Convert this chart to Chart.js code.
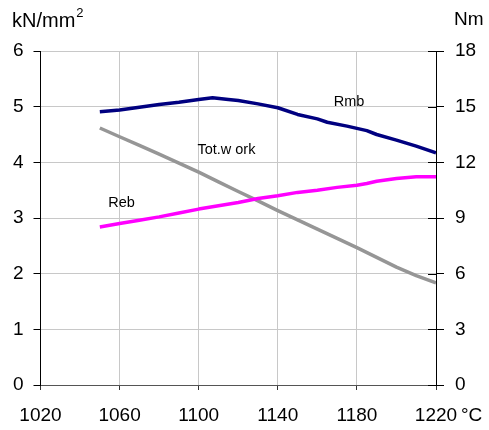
<!DOCTYPE html>
<html>
<head>
<meta charset="utf-8">
<script src="https://cdn.jsdelivr.net/npm/chart.js@4"></script>
<style>
html,body{margin:0;padding:0;background:#fff;}
canvas{display:block;}
</style>
</head>
<body>
<canvas id="c" width="489" height="430"></canvas>
<script>
// ---- data ----
const rmbTemp   = [1050,1060,1070,1080,1090,1100,1107,1115,1120,1130,1140,1150,1160,1165,1175,1185,1190,1200,1210,1220];
const rmbValues = [4.91,4.94,4.99,5.04,5.08,5.13,5.16,5.13,5.11,5.05,4.98,4.86,4.78,4.72,4.65,4.57,4.50,4.40,4.29,4.17];

const rebTemp   = [1050,1060,1070,1080,1090,1100,1110,1120,1130,1140,1150,1160,1170,1180,1185,1190,1200,1210,1220];
const rebValues = [2.84,2.90,2.96,3.02,3.09,3.16,3.22,3.28,3.35,3.40,3.46,3.50,3.55,3.59,3.62,3.66,3.71,3.74,3.74];

const workTemp   = [1050,1060,1070,1080,1090,1100,1110,1120,1130,1140,1150,1160,1170,1180,1190,1200,1210,1220];
const workValues = [13.85,13.38,12.91,12.44,11.96,11.47,10.95,10.43,9.92,9.40,8.90,8.40,7.90,7.40,6.88,6.35,5.90,5.50];

const xTicks  = [1020,1060,1100,1140,1180,1220];
const yTicks  = [0,1,2,3,4,5,6];
const y2Ticks = [0,3,6,9,12,15,18];

const leftTitle = 'kN/mm';
const leftTitleSup = '2';
const rightTitle = 'Nm';
const xUnit = '°C';

const noteLabels = ['Rmb','Tot.w ork','Reb'];
const noteX = [1176,1114,1061];
const noteY = [5.09,4.22,3.27];

// ---- chart ----
const FONT = '"Liberation Sans", Arial, sans-serif';
const pts = (xs, ys) => xs.map((x, i) => ({x: x, y: ys[i]}));

const extras = {
  id: 'extras',
  afterDraw(chart) {
    const ctx = chart.ctx;
    const xs = chart.scales.x, y = chart.scales.y, y2 = chart.scales.y2;
    ctx.save();
    // inner half of right-axis ticks
    ctx.strokeStyle = '#000';
    ctx.lineWidth = 1;
    y2.ticks.forEach(t => {
      const py = Math.round(y2.getPixelForValue(t.value)) + 0.5;
      ctx.beginPath();
      ctx.moveTo(y2.left - 8, py);
      ctx.lineTo(y2.left, py);
      ctx.stroke();
    });
    // axis titles
    ctx.fillStyle = '#000';
    ctx.textBaseline = 'alphabetic';
    ctx.textAlign = 'left';
    ctx.font = '20px ' + FONT;
    ctx.fillText(leftTitle, 12, 26.5);
    const w = ctx.measureText(leftTitle).width;
    ctx.font = '13px ' + FONT;
    ctx.fillText(leftTitleSup, 12 + w + 1, 16.5);
    ctx.font = '19px ' + FONT;
    ctx.fillText(rightTitle, 454, 25);
    // unit after last x label
    ctx.textBaseline = 'middle';
    ctx.fillText(xUnit, xs.getPixelForValue(xTicks[xTicks.length - 1]) + 25, 416);
    // series labels
    ctx.font = '14.5px ' + FONT;
    ctx.textAlign = 'center';
    noteLabels.forEach((s, i) => {
      ctx.fillText(s, xs.getPixelForValue(noteX[i]), y.getPixelForValue(noteY[i]));
    });
    ctx.restore();
  }
};

new Chart(document.getElementById('c'), {
  type: 'line',
  data: {
    datasets: [
      {label: 'Rmb', data: pts(rmbTemp, rmbValues), borderColor: '#000080', borderWidth: 3.5, yAxisID: 'y'},
      {label: 'Reb', data: pts(rebTemp, rebValues), borderColor: '#FF00FF', borderWidth: 3.5, yAxisID: 'y'},
      {label: 'Tot.w ork', data: pts(workTemp, workValues), borderColor: '#969696', borderWidth: 3.5, yAxisID: 'y2'}
    ]
  },
  options: {
    responsive: false,
    animation: false,
    devicePixelRatio: 1,
    events: [],
    elements: {point: {radius: 0}, line: {tension: 0, borderCapStyle: 'butt', borderJoinStyle: 'round'}},
    layout: {padding: {top: 51, left: 0, right: 0, bottom: 0}},
    plugins: {legend: {display: false}, tooltip: {enabled: false}},
    scales: {
      x: {
        type: 'linear', min: 1020, max: 1220,
        afterBuildTicks: s => { s.ticks = xTicks.map(v => ({value: v})); },
        afterFit: s => { s.height = 45; },
        ticks: {color: '#000', font: {family: FONT, size: 19}, padding: 14, maxRotation: 0, callback: v => String(v)},
        grid: {color: '#c8c8c8', lineWidth: 1, tickLength: 5, tickColor: '#333'},
        border: {color: '#555', width: 1}
      },
      y: {
        position: 'left', min: 0, max: 6,
        afterBuildTicks: s => { s.ticks = yTicks.map(v => ({value: v})); },
        afterFit: s => { s.width = 40.5; },
        ticks: {color: '#000', font: {family: FONT, size: 19}, padding: 10, callback: v => String(v)},
        grid: {color: '#c8c8c8', lineWidth: 1, tickLength: 7, tickColor: '#000'},
        border: {color: '#000', width: 1}
      },
      y2: {
        position: 'right', min: 0, max: 18,
        afterBuildTicks: s => { s.ticks = y2Ticks.map(v => ({value: v})); },
        afterFit: s => { s.width = 53; },
        ticks: {color: '#000', font: {family: FONT, size: 19}, padding: 11, callback: v => String(v)},
        grid: {drawOnChartArea: false, tickLength: 8, tickColor: '#000'},
        border: {color: '#000', width: 1}
      }
    }
  },
  plugins: [extras]
});
</script>
</body>
</html>
